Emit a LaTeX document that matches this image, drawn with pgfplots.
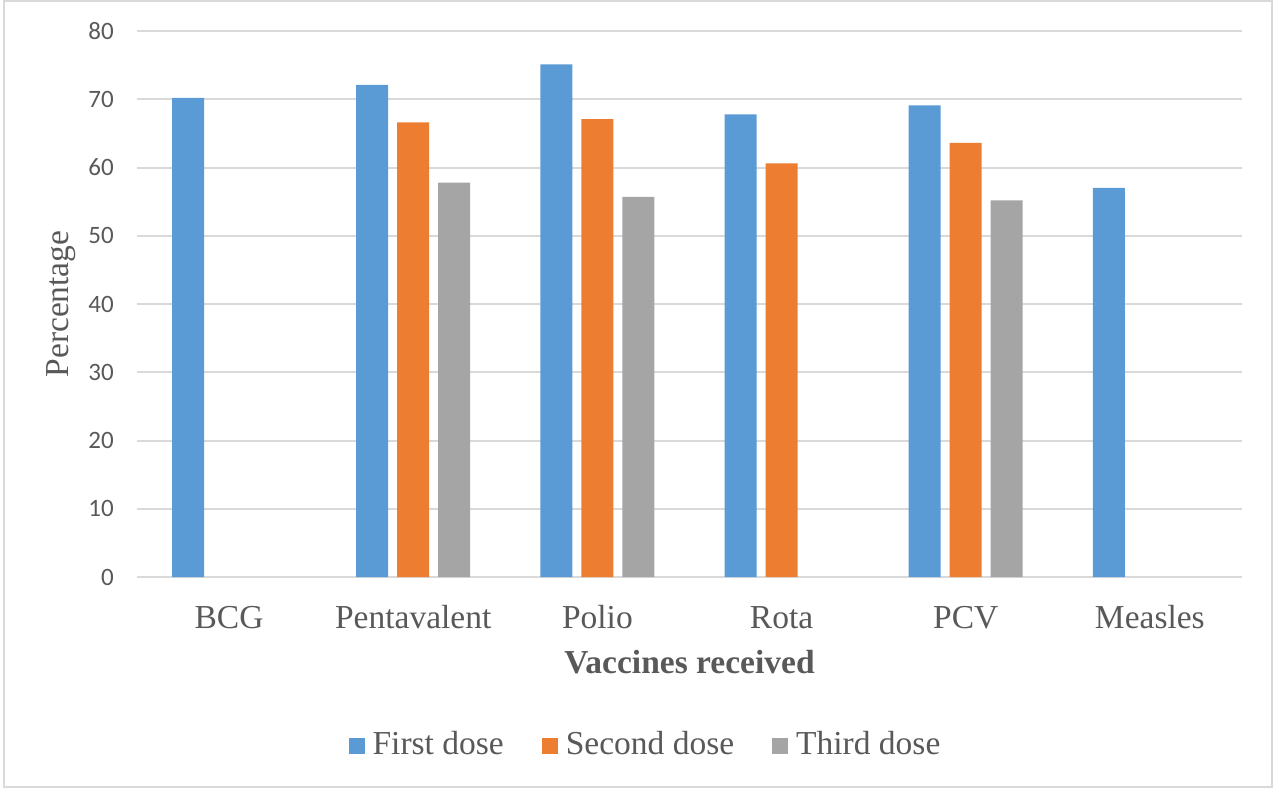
\documentclass[border=0pt]{standalone}
\usepackage{pgfplots}
\pgfplotsset{compat=1.18}
\usepackage{fontspec}
\setmainfont{Liberation Serif}
\newfontfamily\calibri{Carlito}
\definecolor{cblue}{HTML}{5B9BD5}
\definecolor{corange}{HTML}{ED7D31}
\definecolor{cgray}{HTML}{A5A5A5}
\definecolor{gridgray}{HTML}{D9D9D9}
\definecolor{txtgray}{HTML}{595959}
\begin{document}
\begin{tikzpicture}
\begin{axis}[
  at={(0pt,0pt)}, anchor=south west,
  scale only axis, width=1105pt, height=546pt,
  xmin=-0.5, xmax=5.5, ymin=0, ymax=80,
  enlargelimits=false,
  ybar, bar width=0.1738,
  xtick={0,1,2,3,4,5},
  xticklabels={BCG,Pentavalent,Polio,Rota,PCV,Measles},
  ytick={0,10,...,80},
  axis line style={draw=none},
  major tick length=0pt,
  ymajorgrids,
  major grid style={draw=gridgray, line width=2pt},
  /pgf/number format/assume math mode=true,
  yticklabel style={font=\calibri\fontsize{25}{30}\selectfont, text=txtgray, anchor=east, inner sep=0pt, xshift=-23pt},
  xticklabel style={font=\fontsize{33.5}{40}\selectfont, text=txtgray, anchor=base, inner sep=0pt, yshift=-51pt},
  xlabel={\textbf{Vaccines received}},
  ylabel={Percentage},
  every axis x label/.style={at={(axis description cs:0.5,-0.1566)}, anchor=center, font=\fontsize{33.5}{40}\selectfont, text=txtgray},
  every axis y label/.style={at={(axis description cs:-0.0683,0.5)}, rotate=90, anchor=center, font=\fontsize{33.5}{40}\selectfont, text=txtgray},
  legend columns=3,
  legend style={at={(0.4629,-0.3059)}, anchor=center, draw=none, fill=none,
    font=\fontsize{33.5}{40}\selectfont, text=txtgray,
    /tikz/every even column/.append style={column sep=30pt},
    nodes={inner xsep=8pt}},
  legend image code/.code={\fill[#1] (0pt,-10pt) rectangle (16pt,6pt);},
]
\addplot[fill=cblue, draw=none, bar shift=-0.2226] coordinates {(0,70.2) (1,72.1) (2,75.1) (3,67.8) (4,69.1) (5,57.0)};
\addplot[fill=corange, draw=none, bar shift=0] coordinates {(1,66.6) (2,67.1) (3,60.6) (4,63.6)};
\addplot[fill=cgray, draw=none, bar shift=0.2226] coordinates {(1,57.8) (2,55.7) (4,55.2)};
\legend{First dose, Second dose, Third dose}
\end{axis}
\draw[gridgray, line width=2pt] (-133pt,-210pt) rectangle (1135pt,576pt);
\path (-137pt,-221pt) rectangle (1143pt,577pt);
\end{tikzpicture}
\end{document}
